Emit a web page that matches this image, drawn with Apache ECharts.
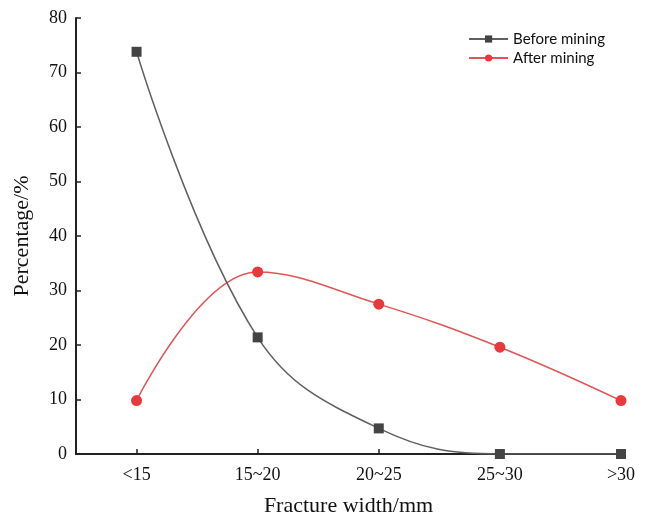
<!DOCTYPE html>
<html><head><meta charset="utf-8">
<script src="https://cdn.jsdelivr.net/npm/echarts@6/dist/echarts.min.js"></script>
<style>html,body{margin:0;padding:0;background:#fff}#c{width:646px;height:522px}</style>
</head><body><div id="c"></div>
<script>
const categories = ['<15', '15~20', '20~25', '25~30', '>30'];
const beforeMining = [73.8, 21.4, 4.7, 0, 0];
const afterMining = [9.8, 33.4, 27.5, 19.6, 9.8];
const yTicks = [0, 10, 20, 30, 40, 50, 60, 70, 80];

const idx = categories.map((c, i) => i);
const toPairs = arr => arr.map((v, i) => [i, v]);
const serif = 'Liberation Serif';

const chart = echarts.init(document.getElementById('c'));
chart.setOption({
  animation: false,
  backgroundColor: '#fff',
  grid: { left: 76, right: 25, top: 18, bottom: 65 },
  legend: {
    right: 41, top: 30, padding: 0, orient: 'vertical', itemGap: 1, itemWidth: 39, itemHeight: 9,
    textStyle: { fontFamily: 'Lato', fontSize: 15, color: '#111', lineHeight: 18 },
    data: ['Before mining', 'After mining']
  },
  xAxis: {
    type: 'value', min: -0.5, max: 4,
    name: 'Fracture width/mm', nameLocation: 'middle', nameGap: 41,
    nameTextStyle: { fontFamily: serif, fontSize: 22, color: '#111' },
    axisLine: { onZero: false, lineStyle: { color: '#222', width: 2 } },
    axisTick: { inside: true, length: 5, lineStyle: { color: '#222', width: 1.5 }, customValues: idx },
    axisLabel: { customValues: idx, formatter: v => categories[Math.round(v)], fontFamily: serif, fontSize: 18, color: '#111', margin: 12 },
    splitLine: { show: false }
  },
  yAxis: {
    type: 'value', min: 0, max: 80, interval: 10,
    name: 'Percentage/%', nameLocation: 'middle', nameGap: 43,
    nameTextStyle: { fontFamily: serif, fontSize: 22, color: '#111' },
    axisLine: { show: true, onZero: false, lineStyle: { color: '#222', width: 2 } },
    axisTick: { show: true, inside: true, length: 5, lineStyle: { color: '#222', width: 1.5 }, customValues: yTicks },
    axisLabel: { customValues: yTicks, fontFamily: serif, fontSize: 18, color: '#111', margin: 9 },
    splitLine: { show: false }
  },
  series: [
    {
      name: 'Before mining', type: 'line', smooth: 0.4, data: toPairs(beforeMining),
      symbol: 'rect', symbolSize: 10,
      lineStyle: { color: '#606060', width: 1.5 },
      itemStyle: { color: '#444' }, z: 3
    },
    {
      name: 'After mining', type: 'line', smooth: 0.4, data: toPairs(afterMining),
      symbol: 'circle', symbolSize: 11,
      lineStyle: { color: '#e05555', width: 1.5 },
      itemStyle: { color: '#e8393c' }, z: 2
    }
  ]
});
</script></body></html>
